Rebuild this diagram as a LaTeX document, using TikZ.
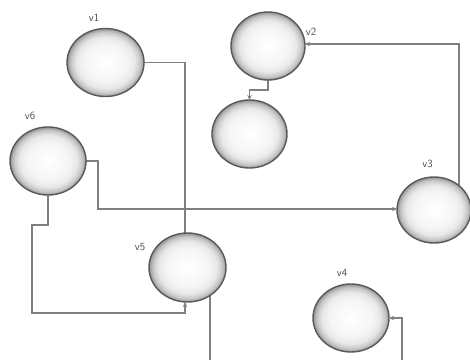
\documentclass[tikz,border=0pt]{standalone}
\usetikzlibrary{shapes.geometric,arrows.meta}
\pgfdeclarelayer{background}
\pgfsetlayers{background,main}
\pgfdeclareradialshading{ballshade}{\pgfpoint{0bp}{0bp}}{%
  color(0bp)=(white); color(14bp)=(black!4); color(19bp)=(black!9);
  color(22.5bp)=(black!22); color(25bp)=(black!42); color(50bp)=(black!45)}
\begin{document}
\begin{tikzpicture}[x=1pt,y=-1pt,
  ell/.style={ellipse, draw=black!65, line width=1.4pt, shading=ballshade,
    inner sep=0pt, outer sep=0pt},
  lbl/.style={font=\sffamily\fontsize{11}{12}\selectfont, text=black!70, inner sep=0pt},
  conn/.style={draw=black!50, line width=1.5pt},
  arr/.style={conn, -{Stealth[length=5pt,width=4.5pt]}}]
\useasboundingbox (0,0) rectangle (470,360);
% nodes
\node[ell, minimum width=77pt, minimum height=68pt] (n1) at (105.5,62.5) {};
\node[ell, minimum width=74pt, minimum height=68pt] (n2) at (268,46) {};
\node[ell, minimum width=75pt, minimum height=68pt] (n2b) at (249.5,134) {};
\node[ell, minimum width=76pt, minimum height=68pt] (n6) at (48,161) {};
\node[ell, minimum width=74pt, minimum height=66pt] (n3) at (434,210) {};
\node[ell, minimum width=77pt, minimum height=69pt] (n5) at (187.5,267.5) {};
\node[ell, minimum width=76pt, minimum height=68pt] (n4) at (351,318) {};
% labels
\node[lbl] (l1) at (94,18) {v1};
\node[lbl] (l2) at (311,32) {v2};
\node[lbl] (l6) at (30,116) {v6};
\node[lbl] (l3) at (427.5,164) {v3};
\node[lbl] (l5) at (140,247.5) {v5};
\node[lbl] (l4) at (342,272.5) {v4};
% free ends
\coordinate (e5) at (210,360);
\coordinate (e4) at (402,360);
\coordinate (j) at (185,209);
\begin{pgfonlayer}{background}
  \draw[conn] (n1.east) -| ([xshift=-2.5pt]n5.center);
  \draw[arr] (n6.east) -- ++(12,0) |- ([yshift=1pt]n3.west);
  \draw[arr] (n2.center) -- ++(0,44) -| (n2b.north);
  \draw[arr] ([xshift=25pt]n3.center) |- ([yshift=2pt]n2.east);
  \draw[arr] (n6.south) |- ++(-16,30) |- ([yshift=-11pt,xshift=-2.5pt]n5.south) -- ([xshift=-2.5pt]n5.south);
  \draw[conn] ([xshift=22.5pt]n5.center) -- (e5);
  \draw[arr] (e4) |- (n4.east);
\end{pgfonlayer}
\fill[black!50] (j) circle (1.8pt);
\end{tikzpicture}
\end{document}
